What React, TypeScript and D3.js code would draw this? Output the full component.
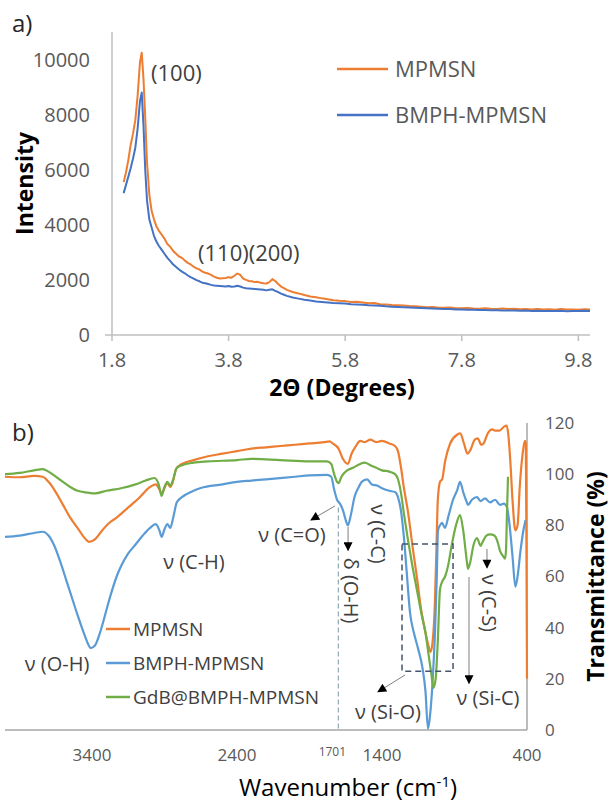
import React from 'react';
import * as d3 from 'd3';

const width = 612;
const height = 802;
const font = "'Open Sans', 'Noto Sans', sans-serif";

// ---- panel a: XRD ----
const xrdTheta = [
  2.0, 2.04, 2.08, 2.12, 2.16, 2.2, 2.24, 2.28, 2.31, 2.34, 2.37, 2.4, 2.44, 2.48, 2.52, 2.56, 2.6,
  2.65, 2.7, 2.75, 2.8, 2.85, 2.9, 2.95, 3.0, 3.05, 3.1, 3.15, 3.2, 3.25, 3.3, 3.35, 3.4, 3.45, 3.5,
  3.55, 3.6, 3.65, 3.7, 3.75, 3.8, 3.85, 3.9, 3.95, 4.0, 4.05, 4.1, 4.15, 4.2, 4.25, 4.3, 4.35, 4.4,
  4.45, 4.5, 4.55, 4.6, 4.65, 4.7, 4.75, 4.8, 4.9, 5.0, 5.1, 5.2, 5.3, 5.4, 5.5, 5.6, 5.7, 5.8, 5.9,
  6.0, 6.1, 6.2, 6.3, 6.4, 6.5, 6.6, 6.7, 6.8, 6.9, 7.0, 7.1, 7.2, 7.3, 7.4, 7.5, 7.6, 7.7, 7.8, 7.9,
  8.0, 8.1, 8.2, 8.3, 8.4, 8.5, 8.6, 8.7, 8.8, 8.9, 9.0, 9.1, 9.2, 9.3, 9.4, 9.5, 9.6, 9.7, 9.8, 9.9, 10.0
];
const xrdMPMSN = [
  5550, 5900, 6350, 6900, 7300, 7800, 8700, 9900, 10250, 9300, 7900, 6300, 5100, 4500, 4200, 3950, 3800,
  3650, 3500, 3300, 3200, 3050, 2950, 2850, 2800, 2700, 2620, 2560, 2480, 2420, 2380, 2300, 2260, 2230, 2180,
  2120, 2080, 2050, 2060, 2070, 2100, 2080, 2150, 2230, 2180, 2050, 2000, 1960, 1950, 1920, 1930, 1900, 1880,
  1870, 1920, 2030, 1960, 1850, 1760, 1700, 1640, 1560, 1510, 1450, 1400, 1370, 1330, 1300, 1260, 1240, 1230, 1200,
  1210, 1180, 1150, 1160, 1120, 1110, 1090, 1080, 1070, 1050, 1040, 1030, 1010, 1020, 990, 985, 1000, 975, 970, 980,
  960, 955, 970, 950, 945, 960, 940, 950, 935, 945, 930, 940, 925, 935, 920, 945, 925, 930, 920, 935, 930
];
const xrdBMPH = [
  5150, 5450, 5750, 6050, 6400, 6800, 7500, 8500, 8800, 7600, 6000, 4900, 4200, 3900, 3600, 3400, 3250,
  3100, 2950, 2800, 2680, 2560, 2470, 2380, 2300, 2240, 2160, 2100, 2050, 1990, 1950, 1900, 1880, 1850, 1820,
  1800, 1790, 1780, 1770, 1760, 1780, 1750, 1760, 1790, 1760, 1720, 1700, 1690, 1680, 1670, 1660, 1650, 1640,
  1620, 1640, 1660, 1600, 1560, 1500, 1460, 1420, 1360, 1320, 1280, 1250, 1220, 1200, 1180, 1160, 1150, 1140, 1120,
  1110, 1100, 1080, 1070, 1060, 1040, 1030, 1020, 1010, 1000, 990, 980, 970, 960, 950, 945, 940, 930, 925, 920,
  915, 910, 905, 900, 895, 890, 885, 890, 880, 885, 875, 880, 870, 875, 870, 880, 865, 875, 870, 880, 875
];
const xrdNames = ['MPMSN', 'BMPH-MPMSN'];
const xrdColors = ['#ED7D31', '#4472C4'];
const xrdTicksX = [1.8, 3.8, 5.8, 7.8, 9.8];
const xrdTicksY = [0, 2000, 4000, 6000, 8000, 10000];

// ---- panel b: FTIR ----
const mpmsnWave = [
  4000, 3900, 3800, 3740, 3700, 3650, 3600, 3550, 3500, 3450, 3420, 3380, 3330, 3280, 3230, 3150, 3070, 3000,
  2960, 2935, 2920, 2905, 2880, 2860, 2845, 2820, 2780, 2700, 2600, 2500, 2400, 2300, 2200, 2100, 2000, 1900,
  1800, 1760, 1740, 1700, 1670, 1635, 1610, 1580, 1550, 1520, 1480, 1440, 1400, 1350, 1310, 1290, 1270, 1250,
  1220, 1190, 1160, 1130, 1100, 1080, 1065, 1050, 1035, 1025, 1015, 1000, 985, 965, 930, 880, 860, 835, 810,
  790, 760, 740, 715, 700, 670, 640, 620, 590, 560, 540, 530, 515, 500, 480, 465, 450, 430, 415, 408, 403, 400
];
const mpmsnT = [
  99, 98.8, 99.3, 99, 97, 93, 88, 83, 79, 75, 73.5, 74.5, 78, 81, 83, 87, 91, 95,
  96, 94, 92.5, 94, 96.5, 95, 96.5, 102, 104, 105.5, 107, 108, 109, 110, 110.5, 111, 111.5, 112,
  112.5, 112.8, 112, 110, 106, 104, 108, 111, 113, 112.5, 113.5, 112.5, 113, 112, 111, 109, 103, 95,
  85, 72, 60, 47, 38, 33, 30.5, 35, 50, 70, 90, 97, 98, 105, 112, 115.5, 116, 112, 108,
  109.5, 113.5, 114, 111.5, 112, 116, 117.5, 117, 117, 118.5, 119, 116, 105, 90, 78, 80, 95, 108, 113, 112, 60, 20
];
const bmphWave = [
  4000, 3900, 3800, 3740, 3700, 3660, 3620, 3580, 3540, 3500, 3460, 3430, 3410, 3380, 3345, 3300, 3270, 3230,
  3200, 3150, 3100, 3050, 3000, 2960, 2935, 2920, 2900, 2880, 2860, 2840, 2815, 2780, 2700, 2650, 2500, 2400,
  2300, 2200, 2000, 1900, 1780, 1750, 1730, 1710, 1690, 1670, 1650, 1635, 1615, 1590, 1560, 1540, 1503, 1470,
  1430, 1400, 1350, 1310, 1290, 1270, 1250, 1230, 1207, 1180, 1152, 1120, 1100, 1083, 1070, 1050, 1034, 1022,
  1014, 1000, 986, 966, 940, 910, 880, 862, 840, 815, 807, 780, 745, 720, 690, 655, 620, 586, 560, 538, 520,
  500, 480, 465, 445, 425, 410
];
const bmphT = [
  75.5, 76, 77, 77.5, 76, 72, 66, 59, 52, 45, 38.5, 34, 32, 33, 38, 47, 53, 60,
  64, 69, 72.5, 76, 79, 80.5, 78, 75.5, 78.5, 80.5, 79, 83, 89, 91, 93.5, 94.6, 96, 97,
  97.5, 98, 99, 99.5, 99.7, 99, 94, 90, 88.5, 86, 82, 80, 84, 91, 95, 97, 98, 96,
  95.5, 94.5, 93.5, 93, 91, 86, 76, 62, 46, 38, 32, 24, 15, 0.5, 5, 20, 39, 60,
  78, 80, 81, 79, 84, 90, 94, 97, 93, 89, 88, 90, 91, 89.5, 90.5, 89, 90, 88, 88.5, 87, 80,
  68, 56, 60, 70, 78, 82
];
const gdbWave = [
  4000, 3900, 3800, 3740, 3700, 3650, 3600, 3550, 3500, 3430, 3380, 3300, 3200, 3100, 3030, 2970, 2940, 2920,
  2900, 2880, 2860, 2840, 2815, 2780, 2700, 2600, 2400, 2300, 2100, 1900, 1780, 1750, 1730, 1710, 1700, 1680,
  1640, 1600, 1550, 1520, 1480, 1440, 1400, 1350, 1310, 1290, 1270, 1250, 1220, 1190, 1160, 1130, 1100, 1080,
  1060, 1045, 1030, 1015, 1000, 985, 965, 945, 920, 890, 862, 840, 815, 807, 790, 770, 745, 720, 710, 680,
  655, 625, 600, 586, 565, 552, 545, 538, 531
];
const gdbT = [
  100, 100.5, 101.5, 102, 101, 99, 97, 95, 93.5, 92.8, 92.5, 93.5, 94.5, 96, 97.5, 98.5, 96, 91.5,
  95, 97, 95.5, 98, 102.5, 103.5, 104.5, 105, 105.5, 106, 105.5, 105, 105, 104, 100, 97, 96.5, 99,
  101.5, 102.5, 104, 104.5, 103.5, 102.5, 101.5, 101, 100, 98, 93, 85, 74, 64, 55, 46, 38, 30,
  22, 16.5, 20, 35, 55, 58, 60, 64, 72, 80, 84, 78, 66, 63, 66, 72, 75, 72, 73, 76,
  76.5, 76, 73, 70, 68, 67, 70, 85, 99
];
const ftirNames = ['MPMSN', 'BMPH-MPMSN', 'GdB@BMPH-MPMSN'];
const ftirColors = ['#ED7D31', '#5B9BD5', '#70AD47'];
const ftirTicksX = [3400, 2400, 1400, 400];
const ftirTicksY = [0, 20, 40, 60, 80, 100, 120];

// annotation labels: [text, wavenumber, transmittance, rotated]
const ftirLabels: [string, number, number, boolean][] = [
  ['ν (O-H)', 3641, 25.8, false],
  ['ν (C-H)', 2697, 65.7, false],
  ['ν (C=O)', 2021, 76.2, false],
  ['δ (O-H)', 1614, 54.5, true],
  ['ν (C-C)', 1428, 76.6, true],
  ['ν (C-S)', 662, 49.6, true],
  ['ν (Si-O)', 1359, 7, false],
  ['ν (Si-C)', 669, 12.5, false]
];
// arrows: [w1, t1, w2, t2]
const ftirArrows: [number, number, number, number][] = [
  [1724, 87.6, 1890, 82.1],
  [1634, 79.4, 1634, 70.2],
  [676, 70.8, 676, 63.4],
  [1241, 21.5, 1428, 14.9],
  [800, 59.8, 800, 18.2]
];

export default function App() {
  // panel a scales
  const xa = d3.scaleLinear().domain([1.8, 10.0]).range([112, 590]);
  const ya = d3.scaleLinear().domain([0, 11000]).range([335, 32]);
  const lineA = d3.line<number>()
    .x((_, i) => xa(xrdTheta[i]))
    .y((d) => ya(d));

  // panel b scales
  const xb = d3.scaleLinear().domain([4000, 400]).range([5, 527]);
  const yb = d3.scaleLinear().domain([0, 120]).range([730, 423]);
  const lineB = d3.line<[number, number]>()
    .x((d) => xb(d[0]))
    .y((d) => yb(d[1]))
    .curve(d3.curveMonotoneX);

  const ftirData = [
    d3.zip(mpmsnWave, mpmsnT),
    d3.zip(bmphWave, bmphT),
    d3.zip(gdbWave, gdbT)
  ] as [number, number][][];

  const gray = '#595959';
  const dark = '#404040';

  return (
    <svg width={width} height={height} style={{ position: 'absolute', left: 0, top: 0, fontFamily: font }}>
      <defs>
        <marker id="head" viewBox="0 0 10 10" refX="9" refY="5" markerWidth="10" markerHeight="9"
          markerUnits="userSpaceOnUse" orient="auto">
          <path d="M0,0L10,5L0,10z" fill="#000" />
        </marker>
      </defs>
      <rect width={width} height={height} fill="#fff" />

      {/* ---------- panel a ---------- */}
      <text x={12} y={32} fontSize={24} fill="#262626">a)</text>
      <line x1={xa(1.8)} x2={xa(1.8)} y1={32} y2={ya(0)} stroke="#BFBFBF" strokeWidth={1.5} />
      <line x1={xa(1.8) - 7} x2={590} y1={ya(0)} y2={ya(0)} stroke="#BFBFBF" strokeWidth={1.5} />
      {xrdTicksX.map((t) => (
        <g key={`xa-${t}`}>
          <line x1={xa(t)} x2={xa(t)} y1={ya(0)} y2={ya(0) + 6} stroke="#BFBFBF" strokeWidth={1.5} />
          <text x={xa(t)} y={ya(0) + 32} textAnchor="middle" fontSize={20} fill={gray}>{t.toFixed(1)}</text>
        </g>
      ))}
      {xrdTicksY.map((t) => (
        <text key={`ya-${t}`} x={xa(1.8) - 22} y={ya(t)} dy="0.35em" textAnchor="end" fontSize={20} fill={gray}>{t}</text>
      ))}
      <text x={342} y={396} textAnchor="middle" fontSize={23} fontWeight="bold" fill="#000">2Θ (Degrees)</text>
      <text transform={`translate(33,${ya(5500)}) rotate(-90)`} textAnchor="middle" fontSize={23} fontWeight="bold" fill="#000">Intensity</text>

      {[xrdMPMSN, xrdBMPH].map((s, i) => (
        <path key={`xrd-${i}`} d={lineA(s) || ''} fill="none" stroke={xrdColors[i]} strokeWidth={2} strokeLinejoin="round" />
      ))}
      <text x={151} y={73} dy="0.35em" fontSize={22} fill={dark}>(100)</text>
      <text x={198} y={253} dy="0.35em" fontSize={22} fill={dark}>(110)(200)</text>

      {xrdNames.map((n, i) => (
        <g key={`lega-${n}`} transform={`translate(337,${69 + i * 46})`}>
          <line x1={0} x2={51} stroke={xrdColors[i]} strokeWidth={2.5} />
          <text x={58} dy="0.35em" fontSize={22} fill={gray}>{n}</text>
        </g>
      ))}

      {/* ---------- panel b ---------- */}
      <text x={12} y={441} fontSize={24} fill="#262626">b)</text>
      <line x1={5} x2={xb(400)} y1={yb(0)} y2={yb(0)} stroke="#A6A6A6" strokeWidth={1.5} />
      <line x1={xb(400)} x2={xb(400)} y1={yb(120)} y2={yb(0)} stroke="#A6A6A6" strokeWidth={1.5} />
      {ftirTicksX.map((t) => (
        <text key={`xb-${t}`} x={xb(t)} y={yb(0) + 25} dy="0.35em" textAnchor="middle" fontSize={17} fill={gray}>{t}</text>
      ))}
      <text x={xb(1701) - 6} y={yb(0) + 22} dy="0.35em" textAnchor="middle" fontSize={12} fill={gray}>1701</text>
      {ftirTicksY.map((t) => (
        <text key={`yb-${t}`} x={xb(400) + 18} y={yb(t)} dy="0.35em" fontSize={17} fill={gray}>{t}</text>
      ))}
      <text x={348} y={796} textAnchor="middle" fontSize={24} fill="#000">
        Wavenumber (cm<tspan dy={-9} fontSize={15}>-1</tspan><tspan dy={9}>)</tspan>
      </text>
      <text transform={`translate(604,${yb(60)}) rotate(-90)`} textAnchor="middle" fontSize={23} fontWeight="bold" fill="#000">Transmittance (%)</text>

      <line x1={xb(1701)} x2={xb(1701)} y1={yb(87)} y2={yb(0)} stroke="#8FA9B3" strokeWidth={1.2} strokeDasharray="5,3" />

      {ftirData.map((s, i) => (
        <path key={`ftir-${i}`} d={lineB(s) || ''} fill="none" stroke={ftirColors[i]} strokeWidth={2.2} strokeLinejoin="round" />
      ))}

      <rect x={xb(1262)} y={yb(72.7)} width={xb(910) - xb(1262)} height={yb(23) - yb(72.7)}
        fill="none" stroke="#44546A" strokeWidth={1.5} strokeDasharray="6,4" />

      {ftirArrows.map((a, i) => (
        <line key={`arr-${i}`} x1={xb(a[0])} y1={yb(a[1])} x2={xb(a[2])} y2={yb(a[3])}
          stroke="#7F7F7F" strokeWidth={1} markerEnd="url(#head)" />
      ))}

      {ftirLabels.map(([t, w, v, rot]) => (
        <text key={`lab-${t}`} transform={`translate(${xb(w)},${yb(v)})${rot ? ' rotate(90)' : ''}`}
          textAnchor="middle" dy="0.35em" fontSize={20} fill={dark}>{t}</text>
      ))}

      {ftirNames.map((n, i) => (
        <g key={`legb-${n}`} transform={`translate(106,${629 + i * 34})`}>
          <line x1={0} x2={24} stroke={ftirColors[i]} strokeWidth={2.5} />
          <text x={27} dy="0.35em" fontSize={19} fill={dark}>{n}</text>
        </g>
      ))}
    </svg>
  );
}
